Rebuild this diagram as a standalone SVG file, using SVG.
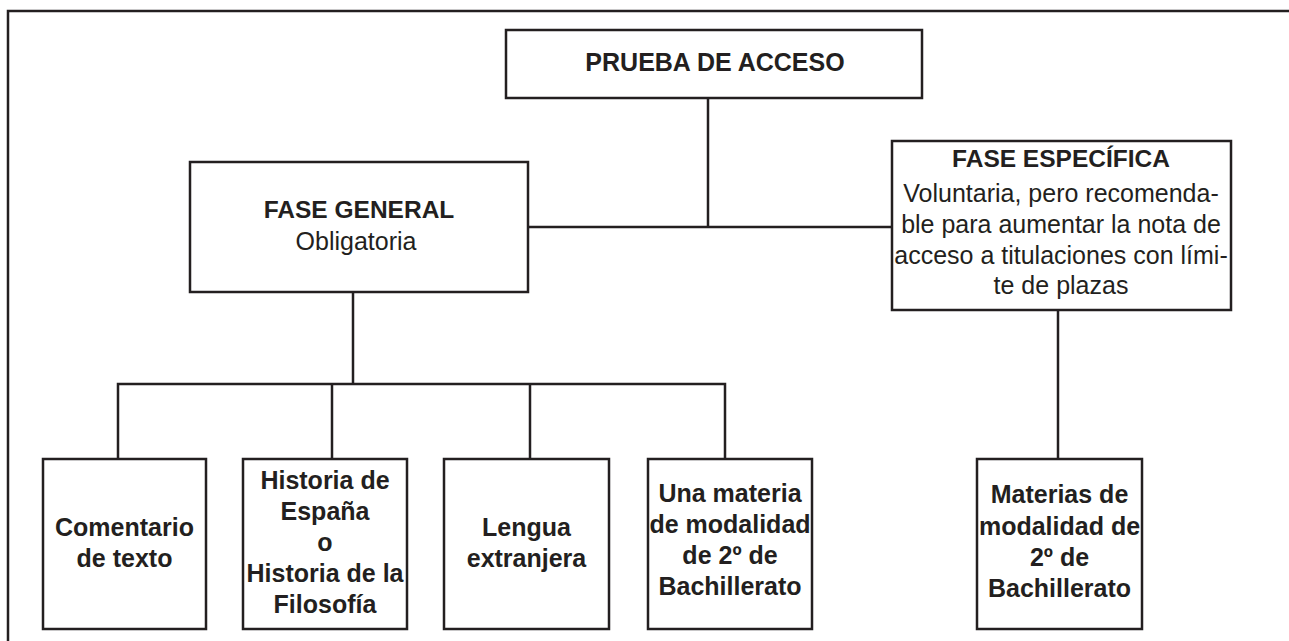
<svg xmlns="http://www.w3.org/2000/svg" width="1289" height="641" viewBox="0 0 1289 641">
<style>
.box{fill:#fff;stroke:#231f20;stroke-width:2.5}
.ln{fill:none;stroke:#231f20;stroke-width:2.5}
text{font-family:"Liberation Sans",Arial,sans-serif;fill:#231f20;text-anchor:middle}
.b{font-weight:bold;font-size:25px}
.h{font-weight:bold;font-size:24.5px}
.r{font-size:25px}
</style>
<rect width="1289" height="641" fill="#fff"/>
<path class="ln" d="M8 641 V11 H1289"/>
<g id="connectors">
<path class="ln" d="M708 98 V227"/>
<path class="ln" d="M528 227 H892"/>
<path class="ln" d="M353 292 V384"/>
<path class="ln" d="M118 459 V384 H725 V459"/>
<path class="ln" d="M332 384 V459"/>
<path class="ln" d="M530 384 V459"/>
<path class="ln" d="M1058 310 V459"/>
</g>
<g id="prueba">
<rect class="box" x="506" y="30" width="416" height="68"/>
<text class="b" x="715" y="71">PRUEBA DE ACCESO</text>
</g>
<g id="general">
<rect class="box" x="190" y="162" width="338" height="130"/>
<text class="h" x="359" y="218">FASE GENERAL</text>
<text class="r" x="356" y="250">Obligatoria</text>
</g>
<g id="especifica">
<rect class="box" x="892" y="141" width="339" height="169"/>
<text class="h" x="1061" y="167">FASE ESPECÍFICA</text>
<text class="r" x="1061" y="202">Voluntaria, pero recomenda-</text>
<text class="r" x="1061" y="233">ble para aumentar la nota de</text>
<text class="r" x="1061" y="264">acceso a titulaciones con lími-</text>
<text class="r" x="1061" y="294">te de plazas</text>
</g>
<g id="comentario">
<rect class="box" x="43" y="459" width="163" height="170"/>
<text class="b" x="124.5" y="536">Comentario</text>
<text class="b" x="124.5" y="567">de texto</text>
</g>
<g id="historia">
<rect class="box" x="243" y="459" width="164" height="170"/>
<text class="b" x="325" y="489">Historia de</text>
<text class="b" x="325" y="520">España</text>
<text class="b" x="325" y="551">o</text>
<text class="b" x="325" y="582">Historia de la</text>
<text class="b" x="325" y="613">Filosofía</text>
</g>
<g id="lengua">
<rect class="box" x="444" y="459" width="165" height="170"/>
<text class="b" x="526.5" y="536">Lengua</text>
<text class="b" x="526.5" y="567">extranjera</text>
</g>
<g id="materia">
<rect class="box" x="648" y="459" width="164" height="170"/>
<text class="b" x="730" y="502">Una materia</text>
<text class="b" x="730" y="533">de modalidad</text>
<text class="b" x="730" y="564">de 2º de</text>
<text class="b" x="730" y="595">Bachillerato</text>
</g>
<g id="materias">
<rect class="box" x="977" y="459" width="165" height="170"/>
<text class="b" x="1059.5" y="503">Materias de</text>
<text class="b" x="1059.5" y="535">modalidad de</text>
<text class="b" x="1059.5" y="566">2º de</text>
<text class="b" x="1059.5" y="597">Bachillerato</text>
</g>
</svg>
